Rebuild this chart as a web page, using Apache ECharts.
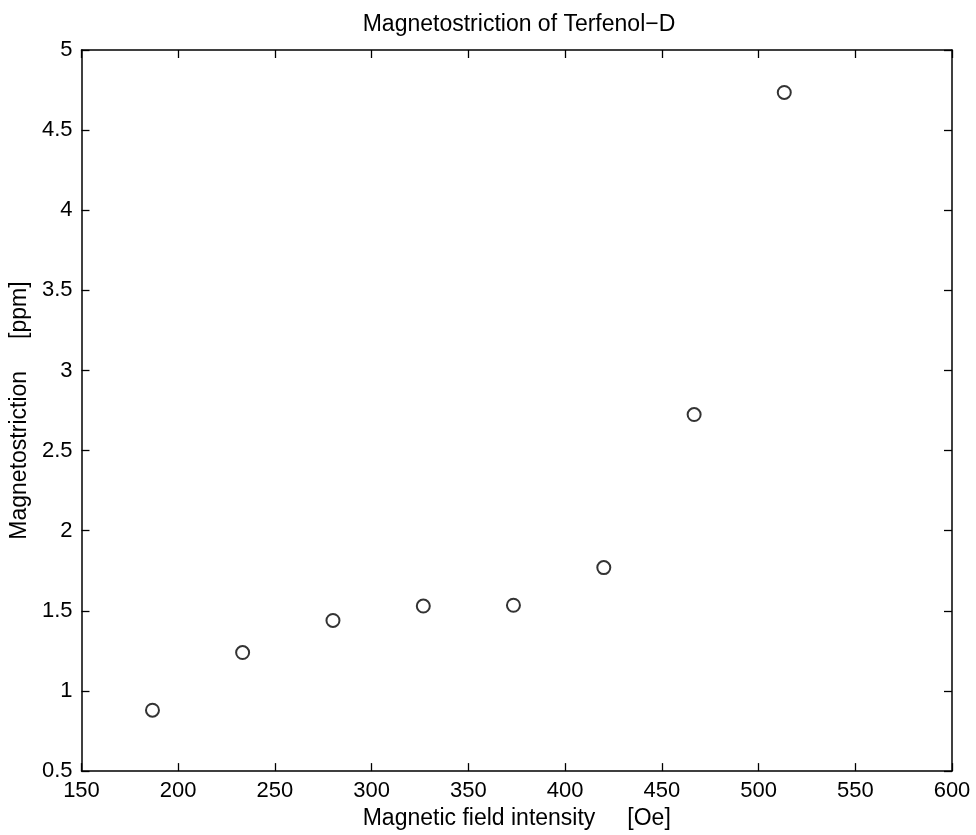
<!DOCTYPE html>
<html>
<head>
<meta charset="utf-8">
<script src="https://cdn.jsdelivr.net/npm/echarts@6/dist/echarts.min.js"></script>
<style>
  html, body { margin: 0; padding: 0; background: #fff; }
  #chart { width: 976px; height: 835px; }
</style>
</head>
<body>
<div id="chart"></div>
<script>
// field intensity [Oe] and magnetostriction [ppm]
var fieldOe = [186.7, 233.3, 280, 326.7, 373.3, 420, 466.7, 513.3];
var strainPpm = [0.88, 1.24, 1.44, 1.53, 1.535, 1.77, 2.725, 4.735];

var xRange = { min: 150, max: 600, interval: 50 };
var yRange = { min: 0.5, max: 5, interval: 0.5 };

var font = "'Liberation Sans', Arial, sans-serif";
var ink = '#000';

var points = fieldOe.map(function (x, i) { return [x, strainPpm[i]]; });

function frameAxis(pos, showLabel, extra) {
    var horiz = pos === 'bottom' || pos === 'top';
    var r = horiz ? xRange : yRange;
    var ax = {
        type: 'value',
        position: pos,
        min: r.min,
        max: r.max,
        interval: r.interval,
        splitLine: { show: false },
        axisLine: { show: true, onZero: false, lineStyle: { color: ink, width: 1.5 } },
        axisTick: { show: true, inside: true, length: 8, lineStyle: { color: ink, width: 1.3 } },
        axisLabel: { show: showLabel, color: ink, fontFamily: font, fontSize: 22, margin: 9 }
    };
    return Object.assign(ax, extra || {});
}

var chart = echarts.init(document.getElementById('chart'));
chart.setOption({
    animation: false,
    backgroundColor: '#fff',
    title: {
        text: 'Magnetostriction of Terfenol\u2212D',
        left: 514,
        top: 8,
        textAlign: 'center',
        textStyle: { color: ink, fontFamily: font, fontSize: 23, fontWeight: 'normal' }
    },
    grid: { left: 77, right: 24, top: 50, bottom: 62 },
    xAxis: [
        frameAxis('bottom', true, {
            name: 'Magnetic field intensity     [Oe]',
            nameLocation: 'middle',
            nameGap: 35,
            nameTextStyle: { color: ink, fontFamily: font, fontSize: 23 }
        }),
        frameAxis('top', false)
    ],
    yAxis: [
        frameAxis('left', true, {
            name: 'Magnetostriction     [ppm]',
            nameLocation: 'middle',
            nameGap: 39,
            nameTextStyle: { color: ink, fontFamily: font, fontSize: 23 }
        }),
        frameAxis('right', false)
    ],
    series: [{
        type: 'scatter',
        xAxisIndex: 0,
        yAxisIndex: 0,
        data: points,
        symbol: 'emptyCircle',
        symbolSize: 13,
        itemStyle: { color: ink, borderColor: ink, borderWidth: 1.6 }
    }]
});
</script>
</body>
</html>
